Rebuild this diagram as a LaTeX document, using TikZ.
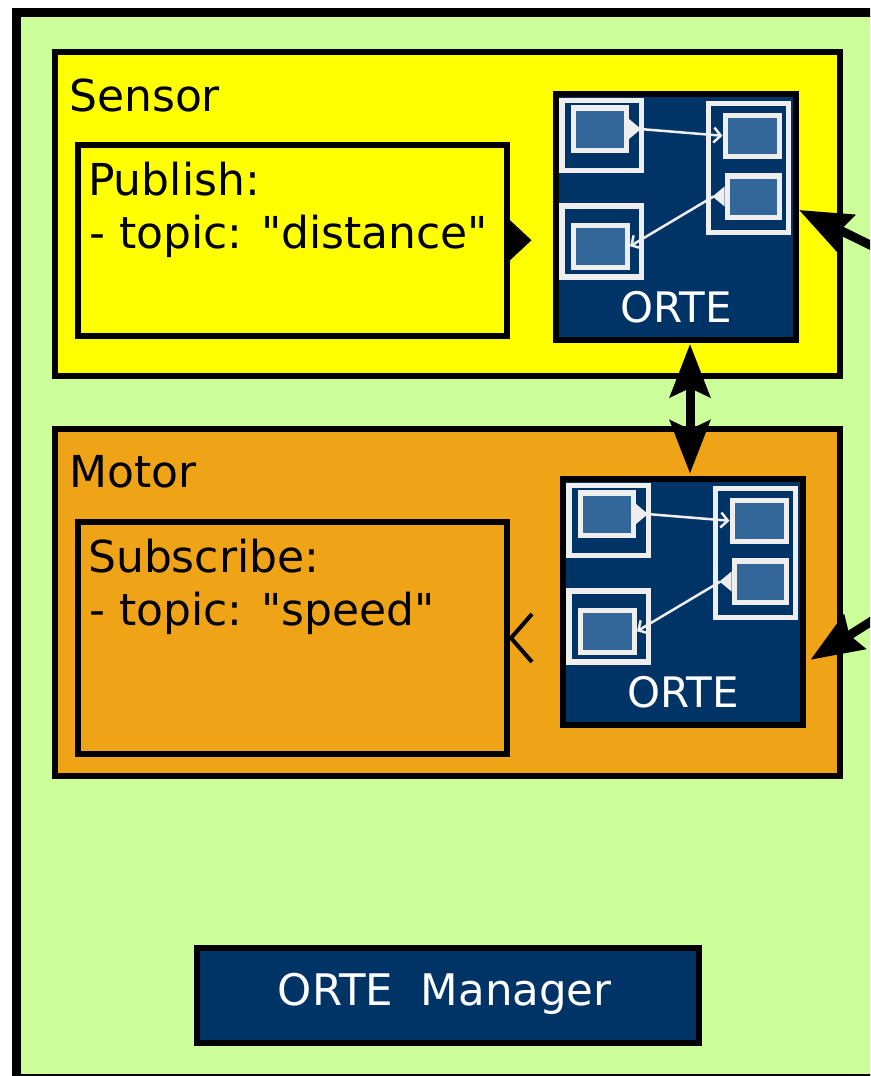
\documentclass[tikz,border=0pt]{standalone}
\usepackage{fontspec}
\setmainfont{DejaVu Sans}[Ligatures=TeXOff]
\usetikzlibrary{arrows.meta,calc}
\definecolor{bggreen}{RGB}{204,255,153}
\definecolor{sensoryellow}{RGB}{255,255,0}
\definecolor{motororange}{RGB}{239,163,22}
\definecolor{navyblue}{RGB}{0,51,102}
\definecolor{innerblue}{RGB}{51,102,153}
\definecolor{framegray}{RGB}{238,238,238}
\tikzset{
  wh/.style 2 args={minimum width=#1pt, minimum height=#2pt},
  blockbox/.style={draw=black, line width=6pt, inner sep=0pt, rectangle, anchor=north west},
  labeltext/.style={font=\fontsize{44}{53}\selectfont, inner sep=0pt, anchor=base west, text=black},
  ortetext/.style={font=\fontsize{42}{50}\selectfont, inner sep=0pt, text=white},
  ortebg/.style={blockbox, fill=navyblue, wh={240.5}{246.5}},
  wframe/.style={draw=framegray, line width=5.5pt, inner sep=0pt, rectangle, anchor=north west},
  winner/.style={wframe, fill=innerblue},
  wconn/.style={draw=framegray, line width=2.5pt, -{Straight Barb[length=7pt,width=15pt]}},
  bigarrow/.style={draw=black, line width=9pt},
  porthead/.style={draw=black, line width=4pt},
}
\newcommand\ortebox[4]{%
  \node[ortebg] (#1) at (#3,#4) {};
  \begin{scope}[shift={(#3,#4)}, name prefix=#2]
    \node[wframe, wh={79.5}{70}] (A) at (6.5,7) {};
    \node[winner, wh={53}{42.5}] (Ai) at (18,14.5) {};
    \node[wframe, wh={80}{129}] (B) at (153,10) {};
    \node[winner, wh={54}{41}] (B1) at (170,22) {};
    \node[winner, wh={52}{41.5}] (B2) at (172,82.5) {};
    \node[wframe, wh={79.5}{71}] (C) at (6.5,112.5) {};
    \node[winner, wh={54}{42}] (Ci) at (18,132) {};
    \fill[framegray] (Ai.east) ++(0,-10) -- ++(12,10) -- ++(-12,10) -- cycle;
    \draw[wconn] ([xshift=11pt]Ai.east) -- (B1.west);
    \fill[framegray] (B2.west) ++(0,-10) -- ++(-12,10) -- ++(12,10) -- cycle;
    \draw[wconn] ([xshift=-11pt]B2.west) -- (Ci.east);
    \node[ortetext, anchor=base] (T) at (123.5,231.5) {ORTE};
  \end{scope}
}
\begin{document}
\begin{tikzpicture}[x=1pt, y=-1pt]
  \useasboundingbox (0,0) rectangle (870,1076);
  \clip (0,0) rectangle (870,1076);
  \fill[white] (0,0) rectangle (870,1076);
  % outer system box
  \node[blockbox, line width=9pt, fill=bggreen, wh={950}{1065.5}] (system) at (11.5,8) {};
  % sensor
  \node[blockbox, fill=sensoryellow, wh={784.5}{323.5}] (sensor) at (52,49) {};
  \node[labeltext] (sensorlabel) at (69,111) {Sensor};
  \node[blockbox, fill=sensoryellow, wh={429}{191.5}] (pub) at (75,141.5) {};
  \node[labeltext] (pub1) at (88,195) {Publish:};
  \node[labeltext] (pub2) at (89,248) {- topic: "distance"};
  \fill[black] (pub.east) ++(0,-20) -- ++(21.5,20) -- ++(-21.5,20) -- cycle;
  \ortebox{sorte}{s-}{552.5}{90.5}
  % motor
  \node[blockbox, fill=motororange, wh={784.5}{347}] (motor) at (52,425.5) {};
  \node[labeltext] (motorlabel) at (69,487.5) {Motor};
  \node[blockbox, fill=motororange, wh={429}{232}] (sub) at (75,519) {};
  \node[labeltext] (sub1) at (88,572) {Subscribe:};
  \node[labeltext] (sub2) at (89,625) {- topic: "speed"};
  \draw[porthead] ([xshift=22pt,yshift=24pt]sub.east) -- ([xshift=1pt]sub.east) -- ([xshift=22pt,yshift=-24pt]sub.east);
  \ortebox{morte}{m-}{559.5}{475.5}
  % manager
  \node[blockbox, fill=navyblue, wh={502}{95}] (manager) at (194,945) {};
  \node[ortetext, font=\fontsize{43.5}{52}\selectfont, anchor=base] (managerlabel) at (444.75,1005) {ORTE\ \ Manager};
  % arrows
  \draw[bigarrow, {Stealth[length=53pt,width=40pt,inset=9pt]}-{Stealth[length=53pt,width=40pt,inset=9pt]}]
    ([xshift=14.25pt,yshift=-1pt]sorte.south) -- ([xshift=7.25pt,yshift=2pt]morte.north);
  \coordinate (farS) at (1000,309);
  \coordinate (farM) at (1000,540);
  \draw[bigarrow, -{Stealth[length=52pt,width=40pt,inset=6pt]}] (farS) -- ([yshift=6.75pt]sorte.east);
  \draw[bigarrow, -{Stealth[length=52pt,width=40pt,inset=6pt]}] (farM) -- ([xshift=4.5pt,yshift=-58pt]morte.east);
\end{tikzpicture}
\end{document}
